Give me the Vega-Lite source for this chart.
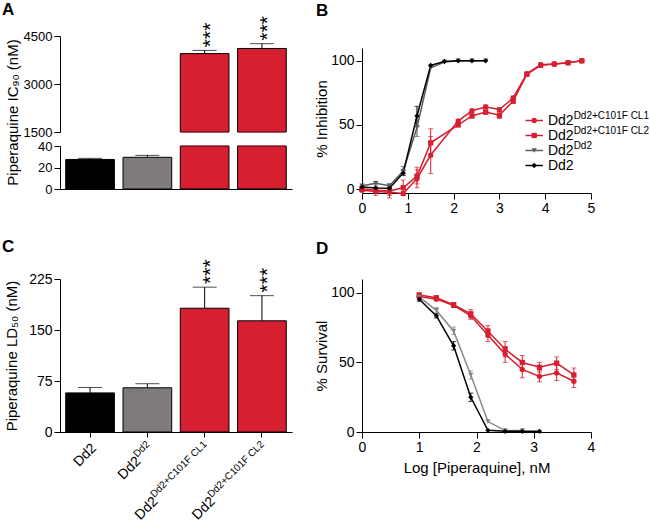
{
  "$schema": "https://vega.github.io/schema/vega-lite/v6.json",
  "background": "white",
  "padding": {"left": 2, "top": 0, "right": 0, "bottom": 0},
  "config": {
    "font": "Liberation Sans",
    "view": {"stroke": null},
    "title": {"fontSize": 17, "fontWeight": "bold", "anchor": "start", "frame": "group", "baseline": "alphabetic", "color": "#000000"},
    "axis": {"domainColor": "#000000", "tickColor": "#000000", "labelColor": "#000000", "titleColor": "#000000", "grid": false, "labelFontSize": 14, "titleFontSize": 15, "titleFontWeight": "normal", "labelPadding": 2, "tickSize": 6, "labelFlush": false, "labelOverlap": false, "domainWidth": 1, "tickWidth": 1},
    "text": {"color": "#000000"}
  },
  "datasets": {
    "ic90": [
      {"strain": "Dd2", "mean": 27.5, "upper": 28.5, "sig": ""},
      {"strain": "Dd2Dd2", "mean": 29.5, "upper": 31.3, "sig": ""},
      {"strain": "Dd2Dd2+C101F CL1", "mean": 3950, "upper": 4050, "sig": "***"},
      {"strain": "Dd2Dd2+C101F CL2", "mean": 4110, "upper": 4260, "sig": "***"}
    ],
    "ld50": [
      {"strain": "Dd2", "mean": 57.5, "upper": 65.5, "sig": "", "base": "Dd2", "sup": ""},
      {"strain": "Dd2Dd2", "mean": 65, "upper": 71, "sig": "", "base": "Dd2", "sup": "Dd2"},
      {"strain": "Dd2Dd2+C101F CL1", "mean": 182, "upper": 213, "sig": "***", "base": "Dd2", "sup": "Dd2+C101F CL1"},
      {"strain": "Dd2Dd2+C101F CL2", "mean": 163.5, "upper": 200.5, "sig": "***", "base": "Dd2", "sup": "Dd2+C101F CL2"}
    ],
    "legend": [
      {"s": "Dd2Dd2+C101F CL1", "base": "Dd2", "sup": "Dd2+C101F CL1"},
      {"s": "Dd2Dd2+C101F CL2", "base": "Dd2", "sup": "Dd2+C101F CL2"},
      {"s": "Dd2Dd2", "base": "Dd2", "sup": "Dd2"},
      {"s": "Dd2", "base": "Dd2", "sup": ""}
    ],
    "inhib": [
      {"s": "Dd2Dd2+C101F CL1", "x": 0, "y": -1, "lo": -2, "hi": 0},
      {"s": "Dd2Dd2+C101F CL1", "x": 0.3, "y": -2, "lo": -5, "hi": 1},
      {"s": "Dd2Dd2+C101F CL1", "x": 0.6, "y": -2.5, "lo": -7, "hi": 2},
      {"s": "Dd2Dd2+C101F CL1", "x": 0.9, "y": -3.5, "lo": -5, "hi": -2},
      {"s": "Dd2Dd2+C101F CL1", "x": 1.2, "y": 8, "lo": 1, "hi": 15},
      {"s": "Dd2Dd2+C101F CL1", "x": 1.5, "y": 26.5, "lo": 12, "hi": 41},
      {"s": "Dd2Dd2+C101F CL1", "x": 2.1, "y": 53, "lo": 51.5, "hi": 54.5},
      {"s": "Dd2Dd2+C101F CL1", "x": 2.4, "y": 61, "lo": 59.5, "hi": 62.5},
      {"s": "Dd2Dd2+C101F CL1", "x": 2.7, "y": 64, "lo": 62.5, "hi": 65.5},
      {"s": "Dd2Dd2+C101F CL1", "x": 3.0, "y": 62, "lo": 60.5, "hi": 63.5},
      {"s": "Dd2Dd2+C101F CL1", "x": 3.3, "y": 71, "lo": 69.5, "hi": 72.5},
      {"s": "Dd2Dd2+C101F CL1", "x": 3.6, "y": 90},
      {"s": "Dd2Dd2+C101F CL1", "x": 3.9, "y": 97},
      {"s": "Dd2Dd2+C101F CL1", "x": 4.2, "y": 97.5},
      {"s": "Dd2Dd2+C101F CL1", "x": 4.5, "y": 98.5},
      {"s": "Dd2Dd2+C101F CL1", "x": 4.8, "y": 100},
      {"s": "Dd2Dd2+C101F CL2", "x": 0, "y": 0, "lo": -1, "hi": 1},
      {"s": "Dd2Dd2+C101F CL2", "x": 0.3, "y": -1, "lo": -3, "hi": 1},
      {"s": "Dd2Dd2+C101F CL2", "x": 0.6, "y": -1.5, "lo": -5, "hi": 3},
      {"s": "Dd2Dd2+C101F CL2", "x": 0.9, "y": 1, "lo": -5, "hi": 7},
      {"s": "Dd2Dd2+C101F CL2", "x": 1.2, "y": 10, "lo": 4, "hi": 17},
      {"s": "Dd2Dd2+C101F CL2", "x": 1.5, "y": 36, "lo": 25, "hi": 47},
      {"s": "Dd2Dd2+C101F CL2", "x": 2.1, "y": 50, "lo": 48.5, "hi": 51.5},
      {"s": "Dd2Dd2+C101F CL2", "x": 2.4, "y": 57, "lo": 55.5, "hi": 58.5},
      {"s": "Dd2Dd2+C101F CL2", "x": 2.7, "y": 60, "lo": 58.5, "hi": 61.5},
      {"s": "Dd2Dd2+C101F CL2", "x": 3.0, "y": 57.5, "lo": 55, "hi": 60},
      {"s": "Dd2Dd2+C101F CL2", "x": 3.3, "y": 68.5, "lo": 67, "hi": 70},
      {"s": "Dd2Dd2+C101F CL2", "x": 3.6, "y": 89.5},
      {"s": "Dd2Dd2+C101F CL2", "x": 3.9, "y": 96.5},
      {"s": "Dd2Dd2+C101F CL2", "x": 4.2, "y": 97.5},
      {"s": "Dd2Dd2+C101F CL2", "x": 4.5, "y": 98.5},
      {"s": "Dd2Dd2+C101F CL2", "x": 4.8, "y": 100},
      {"s": "Dd2Dd2", "x": 0, "y": 2.5},
      {"s": "Dd2Dd2", "x": 0.3, "y": 4.5, "lo": 3, "hi": 6},
      {"s": "Dd2Dd2", "x": 0.6, "y": 2.5, "lo": 1, "hi": 4},
      {"s": "Dd2Dd2", "x": 0.9, "y": 14, "lo": 11.5, "hi": 17.5},
      {"s": "Dd2Dd2", "x": 1.2, "y": 48, "lo": 41, "hi": 54},
      {"s": "Dd2Dd2", "x": 1.5, "y": 94.5},
      {"s": "Dd2Dd2", "x": 1.8, "y": 99},
      {"s": "Dd2Dd2", "x": 2.1, "y": 100},
      {"s": "Dd2Dd2", "x": 2.4, "y": 100},
      {"s": "Dd2Dd2", "x": 2.7, "y": 100},
      {"s": "Dd2", "x": 0, "y": 1.5},
      {"s": "Dd2", "x": 0.3, "y": 0.8},
      {"s": "Dd2", "x": 0.6, "y": 0.5},
      {"s": "Dd2", "x": 0.9, "y": 12.5, "lo": 10.5, "hi": 14.5},
      {"s": "Dd2", "x": 1.2, "y": 57, "lo": 49, "hi": 64.5},
      {"s": "Dd2", "x": 1.5, "y": 96.5},
      {"s": "Dd2", "x": 1.8, "y": 99.5},
      {"s": "Dd2", "x": 2.1, "y": 100},
      {"s": "Dd2", "x": 2.4, "y": 100},
      {"s": "Dd2", "x": 2.7, "y": 100}
    ],
    "surv": [
      {"s": "Dd2Dd2+C101F CL1", "x": 1, "y": 97.5, "lo": 96.5, "hi": 98.5},
      {"s": "Dd2Dd2+C101F CL1", "x": 1.3, "y": 95.5, "lo": 94.5, "hi": 96.5},
      {"s": "Dd2Dd2+C101F CL1", "x": 1.6, "y": 91, "lo": 89.5, "hi": 92.5},
      {"s": "Dd2Dd2+C101F CL1", "x": 1.9, "y": 83.5, "lo": 81, "hi": 86},
      {"s": "Dd2Dd2+C101F CL1", "x": 2.2, "y": 69.5, "lo": 65, "hi": 74},
      {"s": "Dd2Dd2+C101F CL1", "x": 2.5, "y": 56, "lo": 50, "hi": 61.5},
      {"s": "Dd2Dd2+C101F CL1", "x": 2.8, "y": 45, "lo": 39, "hi": 50.5},
      {"s": "Dd2Dd2+C101F CL1", "x": 3.1, "y": 40, "lo": 36, "hi": 44},
      {"s": "Dd2Dd2+C101F CL1", "x": 3.4, "y": 42.5, "lo": 37, "hi": 48},
      {"s": "Dd2Dd2+C101F CL1", "x": 3.7, "y": 36.5, "lo": 32, "hi": 41},
      {"s": "Dd2Dd2+C101F CL2", "x": 1, "y": 98.5, "lo": 97, "hi": 100},
      {"s": "Dd2Dd2+C101F CL2", "x": 1.3, "y": 96.5, "lo": 95, "hi": 98},
      {"s": "Dd2Dd2+C101F CL2", "x": 1.6, "y": 91.5, "lo": 90, "hi": 93},
      {"s": "Dd2Dd2+C101F CL2", "x": 1.9, "y": 85, "lo": 82, "hi": 88},
      {"s": "Dd2Dd2+C101F CL2", "x": 2.2, "y": 72.5, "lo": 68.5, "hi": 76.5},
      {"s": "Dd2Dd2+C101F CL2", "x": 2.5, "y": 59.5, "lo": 54, "hi": 65},
      {"s": "Dd2Dd2+C101F CL2", "x": 2.8, "y": 50, "lo": 45, "hi": 55},
      {"s": "Dd2Dd2+C101F CL2", "x": 3.1, "y": 46.5, "lo": 43, "hi": 50},
      {"s": "Dd2Dd2+C101F CL2", "x": 3.4, "y": 49.5, "lo": 45, "hi": 54},
      {"s": "Dd2Dd2+C101F CL2", "x": 3.7, "y": 41, "lo": 36.5, "hi": 46},
      {"s": "Dd2Dd2", "x": 1, "y": 97},
      {"s": "Dd2Dd2", "x": 1.3, "y": 87.5, "lo": 85.5, "hi": 89.5},
      {"s": "Dd2Dd2", "x": 1.6, "y": 72.5, "lo": 70, "hi": 75.5},
      {"s": "Dd2Dd2", "x": 1.9, "y": 41, "lo": 38, "hi": 44},
      {"s": "Dd2Dd2", "x": 2.2, "y": 7.5},
      {"s": "Dd2Dd2", "x": 2.5, "y": 1},
      {"s": "Dd2Dd2", "x": 2.8, "y": 1},
      {"s": "Dd2", "x": 1, "y": 95.5, "lo": 94, "hi": 97},
      {"s": "Dd2", "x": 1.3, "y": 83.5, "lo": 82, "hi": 85},
      {"s": "Dd2", "x": 1.6, "y": 62, "lo": 59, "hi": 65},
      {"s": "Dd2", "x": 1.9, "y": 25, "lo": 22, "hi": 28},
      {"s": "Dd2", "x": 2.2, "y": 1.2},
      {"s": "Dd2", "x": 2.5, "y": 0.5},
      {"s": "Dd2", "x": 2.8, "y": 0.5},
      {"s": "Dd2", "x": 3.1, "y": 0.5}
    ]
  },
  "columns": 2,
  "spacing": {"row": 90, "column": 70},
  "bounds": "flush",
  "resolve": {"scale": {"color": "independent", "shape": "independent", "fill": "independent"}},
  "concat": [
    {
      "width": 232,
      "height": 153,
      "title": {"text": "A", "dx": -58, "offset": -3},
      "data": {"name": "ic90"},
      "encoding": {
        "x": {"field": "strain", "type": "nominal", "sort": null, "scale": {"domain": ["Dd2", "Dd2Dd2", "Dd2Dd2+C101F CL1", "Dd2Dd2+C101F CL2"], "paddingInner": 0.15, "paddingOuter": 0.1}, "axis": {"labels": false, "ticks": false, "title": null}}
      },
      "resolve": {"scale": {"y": "independent"}},
      "layer": [
        {
          "transform": [{"filter": "datum.mean > 1500"}],
          "layer": [
            {
              "mark": {"type": "bar", "stroke": "#000000", "strokeWidth": 1},
              "encoding": {
                "y": {"field": "mean", "type": "quantitative", "scale": {"domain": [1500, 4500], "range": [96, 0]}, "axis": {"orient": "left", "values": [1500, 2250, 3000, 3750, 4500], "format": "d", "labelFontSize": 13, "labelExpr": "datum.value % 1500 === 0 ? datum.label : ''", "tickSize": {"condition": {"test": "datum.value % 1500 === 0", "value": 6}, "value": 3}, "title": "Piperaquine IC₉₀ (nM)", "titleY": 76, "titlePadding": 3}},
                "y2": {"datum": 1500},
                "fill": {"field": "strain", "type": "nominal", "scale": {"domain": ["Dd2", "Dd2Dd2", "Dd2Dd2+C101F CL1", "Dd2Dd2+C101F CL2"], "range": ["#000000", "#7f7b7a", "#d61f30", "#d61f30"]}, "legend": null}
              }
            },
            {
              "mark": {"type": "tick", "orient": "horizontal", "size": 48, "thickness": 1, "color": "#d61f30"},
              "encoding": {"y": {"datum": 1500, "type": "quantitative", "scale": {"domain": [1500, 4500], "range": [96, 0]}}}
            },
            {
              "mark": {"type": "rule", "color": "#000000", "strokeWidth": 1},
              "encoding": {"y": {"field": "mean", "type": "quantitative", "scale": {"domain": [1500, 4500], "range": [96, 0]}}, "y2": {"field": "upper"}}
            },
            {
              "mark": {"type": "tick", "orient": "horizontal", "size": 24, "thickness": 1, "color": "#000000"},
              "encoding": {"y": {"field": "upper", "type": "quantitative", "scale": {"domain": [1500, 4500], "range": [96, 0]}}}
            },
            {
              "mark": {"type": "text", "angle": 270, "align": "left", "baseline": "alphabetic", "dx": 3.2, "dy": 12, "fontSize": 21},
              "encoding": {"y": {"field": "upper", "type": "quantitative", "scale": {"domain": [1500, 4500], "range": [96, 0]}}, "text": {"field": "sig"}}
            }
          ]
        },
        {
          "layer": [
            {
              "mark": {"type": "bar", "stroke": "#000000", "strokeWidth": 1},
              "encoding": {
                "y": {"field": "mean", "type": "quantitative", "scale": {"domain": [0, 40], "range": [153, 110], "clamp": true}, "axis": {"orient": "left", "values": [0, 10, 20, 30, 40], "labelFontSize": 13, "labelExpr": "datum.value % 20 === 0 ? datum.label : ''", "tickSize": {"condition": {"test": "datum.value % 20 === 0", "value": 6}, "value": 3}, "title": null}},
                "y2": {"datum": 0},
                "fill": {"field": "strain", "type": "nominal", "scale": {"domain": ["Dd2", "Dd2Dd2", "Dd2Dd2+C101F CL1", "Dd2Dd2+C101F CL2"], "range": ["#000000", "#7f7b7a", "#d61f30", "#d61f30"]}, "legend": null}
              }
            },
            {
              "transform": [{"filter": "datum.mean > 40"}],
              "mark": {"type": "tick", "orient": "horizontal", "size": 48, "thickness": 1, "color": "#d61f30"},
              "encoding": {"y": {"datum": 40, "type": "quantitative", "scale": {"domain": [0, 40], "range": [153, 110], "clamp": true}}}
            },
            {
              "transform": [{"filter": "datum.mean < 40"}],
              "mark": {"type": "rule", "color": "#000000", "strokeWidth": 1},
              "encoding": {"y": {"field": "mean", "type": "quantitative", "scale": {"domain": [0, 40], "range": [153, 110], "clamp": true}}, "y2": {"field": "upper"}}
            },
            {
              "transform": [{"filter": "datum.mean < 40"}],
              "mark": {"type": "tick", "orient": "horizontal", "size": 24, "thickness": 1, "color": "#000000"},
              "encoding": {"y": {"field": "upper", "type": "quantitative", "scale": {"domain": [0, 40], "range": [153, 110], "clamp": true}}}
            }
          ]
        }
      ]
    },
    {
      "width": 229,
      "height": 153,
      "title": {"text": "B", "dx": -46, "offset": 16},
      "resolve": {"scale": {"y": "independent"}},
      "layer": [
        {
          "data": {"name": "inhib"},
          "encoding": {
            "x": {"field": "x", "type": "quantitative", "scale": {"domain": [0, 5]}, "axis": {"values": [0, 0.5, 1, 1.5, 2, 2.5, 3, 3.5, 4, 4.5, 5], "format": "d", "labelExpr": "datum.value % 1 === 0 ? datum.label : ''", "tickSize": {"condition": {"test": "datum.value % 1 === 0", "value": 6}, "value": 3}, "offset": 4, "title": null}}
          },
          "layer": [
            {
              "transform": [{"filter": "isValid(datum.lo)"}],
              "mark": {"type": "rule", "strokeWidth": 1},
              "encoding": {
                "y": {"field": "lo", "type": "quantitative", "scale": {"domain": [0, 110], "range": [153, 12]}},
                "y2": {"field": "hi"},
                "color": {"field": "s", "type": "nominal", "scale": {"domain": ["Dd2Dd2+C101F CL1", "Dd2Dd2+C101F CL2", "Dd2Dd2", "Dd2"], "range": ["#d61f30", "#d61f30", "#5c5c5c", "#000000"]}, "legend": null}
              }
            },
            {
              "transform": [{"filter": "isValid(datum.lo)"}],
              "mark": {"type": "tick", "orient": "horizontal", "size": 5, "thickness": 1},
              "encoding": {
                "y": {"field": "lo", "type": "quantitative", "scale": {"domain": [0, 110], "range": [153, 12]}},
                "color": {"field": "s", "type": "nominal", "scale": {"domain": ["Dd2Dd2+C101F CL1", "Dd2Dd2+C101F CL2", "Dd2Dd2", "Dd2"], "range": ["#d61f30", "#d61f30", "#5c5c5c", "#000000"]}, "legend": null}
              }
            },
            {
              "transform": [{"filter": "isValid(datum.hi)"}],
              "mark": {"type": "tick", "orient": "horizontal", "size": 5, "thickness": 1},
              "encoding": {
                "y": {"field": "hi", "type": "quantitative", "scale": {"domain": [0, 110], "range": [153, 12]}},
                "color": {"field": "s", "type": "nominal", "scale": {"domain": ["Dd2Dd2+C101F CL1", "Dd2Dd2+C101F CL2", "Dd2Dd2", "Dd2"], "range": ["#d61f30", "#d61f30", "#5c5c5c", "#000000"]}, "legend": null}
              }
            },
            {
              "mark": {"type": "line", "strokeWidth": 1.5},
              "encoding": {
                "y": {"field": "y", "type": "quantitative", "scale": {"domain": [0, 110], "range": [153, 12]}, "axis": {"values": [0, 12.5, 25, 37.5, 50, 62.5, 75, 87.5, 100], "labelExpr": "datum.value % 25 === 0 ? datum.label : ''", "tickSize": {"condition": {"test": "datum.value % 25 === 0", "value": 6}, "value": 3}, "title": "% Inhibition", "titlePadding": 1}},
                "color": {"field": "s", "type": "nominal", "scale": {"domain": ["Dd2Dd2+C101F CL1", "Dd2Dd2+C101F CL2", "Dd2Dd2", "Dd2"], "range": ["#d61f30", "#d61f30", "#5c5c5c", "#000000"]}, "legend": null}
              }
            },
            {
              "mark": {"type": "point", "filled": true, "size": 28, "opacity": 1},
              "encoding": {
                "y": {"field": "y", "type": "quantitative", "scale": {"domain": [0, 110], "range": [153, 12]}},
                "color": {"field": "s", "type": "nominal", "scale": {"domain": ["Dd2Dd2+C101F CL1", "Dd2Dd2+C101F CL2", "Dd2Dd2", "Dd2"], "range": ["#d61f30", "#d61f30", "#5c5c5c", "#000000"]}, "legend": null},
                "shape": {"field": "s", "type": "nominal", "scale": {"domain": ["Dd2Dd2+C101F CL1", "Dd2Dd2+C101F CL2", "Dd2Dd2", "Dd2"], "range": ["circle", "square", "triangle-down", "diamond"]}, "legend": null}
              }
            }
          ]
        },
        {
          "data": {"name": "legend"},
          "encoding": {
            "y": {"field": "s", "type": "nominal", "sort": null, "scale": {"domain": ["Dd2Dd2+C101F CL1", "Dd2Dd2+C101F CL2", "Dd2Dd2", "Dd2"], "range": [77, 137], "padding": 0}, "axis": null}
          },
          "layer": [
            {
              "mark": {"type": "rule", "strokeWidth": 1.5},
              "encoding": {
                "x": {"datum": 3.57, "type": "quantitative", "scale": {"domain": [0, 5]}},
                "x2": {"datum": 3.95},
                "color": {"field": "s", "type": "nominal", "scale": {"domain": ["Dd2Dd2+C101F CL1", "Dd2Dd2+C101F CL2", "Dd2Dd2", "Dd2"], "range": ["#d61f30", "#d61f30", "#5c5c5c", "#000000"]}, "legend": null}
              }
            },
            {
              "mark": {"type": "point", "filled": true, "size": 28, "opacity": 1},
              "encoding": {
                "x": {"datum": 3.76, "type": "quantitative", "scale": {"domain": [0, 5]}},
                "color": {"field": "s", "type": "nominal", "scale": {"domain": ["Dd2Dd2+C101F CL1", "Dd2Dd2+C101F CL2", "Dd2Dd2", "Dd2"], "range": ["#d61f30", "#d61f30", "#5c5c5c", "#000000"]}, "legend": null},
                "shape": {"field": "s", "type": "nominal", "scale": {"domain": ["Dd2Dd2+C101F CL1", "Dd2Dd2+C101F CL2", "Dd2Dd2", "Dd2"], "range": ["circle", "square", "triangle-down", "diamond"]}, "legend": null}
              }
            },
            {
              "mark": {"type": "text", "align": "left", "baseline": "middle", "fontSize": 14},
              "encoding": {"x": {"datum": 4.06, "type": "quantitative", "scale": {"domain": [0, 5]}}, "text": {"field": "base"}}
            },
            {
              "mark": {"type": "text", "align": "left", "baseline": "alphabetic", "fontSize": 10, "dx": 25.7, "dy": -2},
              "encoding": {"x": {"datum": 4.06, "type": "quantitative", "scale": {"domain": [0, 5]}}, "text": {"field": "sup"}}
            }
          ]
        }
      ]
    },
    {
      "width": 232,
      "height": 153,
      "title": {"text": "C", "dx": -58, "offset": 3},
      "data": {"name": "ld50"},
      "encoding": {
        "x": {"field": "strain", "type": "nominal", "sort": null, "scale": {"domain": ["Dd2", "Dd2Dd2", "Dd2Dd2+C101F CL1", "Dd2Dd2+C101F CL2"], "paddingInner": 0.15, "paddingOuter": 0.1}, "axis": {"labels": false, "title": null, "tickSize": 5}}
      },
      "layer": [
        {
          "mark": {"type": "bar", "stroke": "#000000", "strokeWidth": 1},
          "encoding": {
            "y": {"field": "mean", "type": "quantitative", "scale": {"domain": [0, 225]}, "axis": {"values": [0, 37.5, 75, 112.5, 150, 187.5, 225], "format": "d", "labelExpr": "datum.value % 75 === 0 ? datum.label : ''", "tickSize": {"condition": {"test": "datum.value % 75 === 0", "value": 6}, "value": 3}, "title": "Piperaquine LD₅₀ (nM)", "titlePadding": 9}},
            "fill": {"field": "strain", "type": "nominal", "scale": {"domain": ["Dd2", "Dd2Dd2", "Dd2Dd2+C101F CL1", "Dd2Dd2+C101F CL2"], "range": ["#000000", "#7f7b7a", "#d61f30", "#d61f30"]}, "legend": null}
          }
        },
        {
          "mark": {"type": "rule", "color": "#000000", "strokeWidth": 1},
          "encoding": {"y": {"field": "mean", "type": "quantitative", "scale": {"domain": [0, 225]}}, "y2": {"field": "upper"}}
        },
        {
          "mark": {"type": "tick", "orient": "horizontal", "size": 24, "thickness": 1, "color": "#000000"},
          "encoding": {"y": {"field": "upper", "type": "quantitative", "scale": {"domain": [0, 225]}}}
        },
        {
          "transform": [{"filter": "datum.sig !== ''"}],
          "mark": {"type": "text", "angle": 270, "align": "left", "baseline": "alphabetic", "dx": 3.2, "dy": 12, "fontSize": 21},
          "encoding": {"y": {"field": "upper", "type": "quantitative", "scale": {"domain": [0, 225]}}, "text": {"field": "sig"}}
        },
        {
          "transform": [{"filter": "datum.sup === ''"}],
          "mark": {"type": "text", "angle": 315, "align": "right", "baseline": "alphabetic", "dx": -7.1, "dy": 17, "fontSize": 14},
          "encoding": {"y": {"datum": 0, "type": "quantitative", "scale": {"domain": [0, 225]}}, "text": {"field": "base"}}
        },
        {
          "transform": [{"filter": "datum.sup === 'Dd2'"}],
          "mark": {"type": "text", "angle": 315, "align": "right", "baseline": "alphabetic", "dx": -25.4, "dy": 17, "fontSize": 14},
          "encoding": {"y": {"datum": 0, "type": "quantitative", "scale": {"domain": [0, 225]}}, "text": {"field": "base"}}
        },
        {
          "transform": [{"filter": "length(datum.sup) > 3"}],
          "mark": {"type": "text", "angle": 315, "align": "right", "baseline": "alphabetic", "dx": -82.4, "dy": 17, "fontSize": 14},
          "encoding": {"y": {"datum": 0, "type": "quantitative", "scale": {"domain": [0, 225]}}, "text": {"field": "base"}}
        },
        {
          "transform": [{"filter": "datum.sup !== ''"}],
          "mark": {"type": "text", "angle": 315, "align": "right", "baseline": "alphabetic", "dx": -7.1, "dy": 11, "fontSize": 10},
          "encoding": {"y": {"datum": 0, "type": "quantitative", "scale": {"domain": [0, 225]}}, "text": {"field": "sup"}}
        }
      ]
    },
    {
      "width": 229,
      "height": 153,
      "title": {"text": "D", "dx": -46, "offset": 21},
      "data": {"name": "surv"},
      "encoding": {
        "x": {"field": "x", "type": "quantitative", "scale": {"domain": [0, 4]}, "axis": {"values": [0, 0.5, 1, 1.5, 2, 2.5, 3, 3.5, 4], "format": "d", "labelExpr": "datum.value % 1 === 0 ? datum.label : ''", "tickSize": {"condition": {"test": "datum.value % 1 === 0", "value": 6}, "value": 3}, "title": "Log [Piperaquine], nM", "titlePadding": 6}}
      },
      "layer": [
        {
          "transform": [{"filter": "isValid(datum.lo)"}],
          "mark": {"type": "rule", "strokeWidth": 1},
          "encoding": {
            "y": {"field": "lo", "type": "quantitative", "scale": {"domain": [0, 110]}},
            "y2": {"field": "hi"},
            "color": {"field": "s", "type": "nominal", "scale": {"domain": ["Dd2Dd2+C101F CL1", "Dd2Dd2+C101F CL2", "Dd2Dd2", "Dd2"], "range": ["#d61f30", "#d61f30", "#888888", "#000000"]}, "legend": null}
          }
        },
        {
          "transform": [{"filter": "isValid(datum.lo)"}],
          "mark": {"type": "tick", "orient": "horizontal", "size": 5, "thickness": 1},
          "encoding": {
            "y": {"field": "lo", "type": "quantitative", "scale": {"domain": [0, 110]}},
            "color": {"field": "s", "type": "nominal", "scale": {"domain": ["Dd2Dd2+C101F CL1", "Dd2Dd2+C101F CL2", "Dd2Dd2", "Dd2"], "range": ["#d61f30", "#d61f30", "#888888", "#000000"]}, "legend": null}
          }
        },
        {
          "transform": [{"filter": "isValid(datum.hi)"}],
          "mark": {"type": "tick", "orient": "horizontal", "size": 5, "thickness": 1},
          "encoding": {
            "y": {"field": "hi", "type": "quantitative", "scale": {"domain": [0, 110]}},
            "color": {"field": "s", "type": "nominal", "scale": {"domain": ["Dd2Dd2+C101F CL1", "Dd2Dd2+C101F CL2", "Dd2Dd2", "Dd2"], "range": ["#d61f30", "#d61f30", "#888888", "#000000"]}, "legend": null}
          }
        },
        {
          "mark": {"type": "line", "strokeWidth": 1.5},
          "encoding": {
            "y": {"field": "y", "type": "quantitative", "scale": {"domain": [0, 110]}, "axis": {"values": [0, 12.5, 25, 37.5, 50, 62.5, 75, 87.5, 100], "labelExpr": "datum.value % 25 === 0 ? datum.label : ''", "tickSize": {"condition": {"test": "datum.value % 25 === 0", "value": 6}, "value": 3}, "title": "% Survival", "titlePadding": 1}},
            "color": {"field": "s", "type": "nominal", "scale": {"domain": ["Dd2Dd2+C101F CL1", "Dd2Dd2+C101F CL2", "Dd2Dd2", "Dd2"], "range": ["#d61f30", "#d61f30", "#888888", "#000000"]}, "legend": null}
          }
        },
        {
          "mark": {"type": "point", "filled": true, "size": 28, "opacity": 1},
          "encoding": {
            "y": {"field": "y", "type": "quantitative", "scale": {"domain": [0, 110]}},
            "color": {"field": "s", "type": "nominal", "scale": {"domain": ["Dd2Dd2+C101F CL1", "Dd2Dd2+C101F CL2", "Dd2Dd2", "Dd2"], "range": ["#d61f30", "#d61f30", "#888888", "#000000"]}, "legend": null},
            "shape": {"field": "s", "type": "nominal", "scale": {"domain": ["Dd2Dd2+C101F CL1", "Dd2Dd2+C101F CL2", "Dd2Dd2", "Dd2"], "range": ["circle", "square", "triangle-down", "diamond"]}, "legend": null}
          }
        }
      ]
    }
  ]
}
